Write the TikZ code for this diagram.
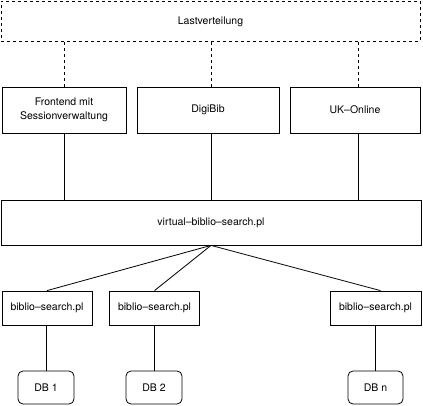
\documentclass[tikz,border=0pt]{standalone}
\usepackage{fontspec}
\setmainfont{TeX Gyre Heros}
\usetikzlibrary{positioning}

\begin{document}
\begin{tikzpicture}[x=1pt, y=1pt, line width=.8pt,
    font=\fontsize{10.5}{13.5}\selectfont]

    \tikzstyle{box} = [draw, rectangle, inner sep=0pt, align=center]
    \tikzstyle{dbbox} = [draw, rectangle, rounded corners=5pt, inner sep=0pt]
    \tikzstyle{link} = [line width=.8pt]

    \useasboundingbox (0,0) rectangle (423,-406);

    % Lastverteilung
    \node[box, dashed, minimum width=419, minimum height=40] (last)
        at (210.5,-21.5) {Lastverteilung};

    % Frontends
    \node[box, minimum width=124, minimum height=46] (front) at (64,-110)
        {Frontend mit\\Sessionverwaltung};
    \node[box, minimum width=142, minimum height=46] (digi) at (208,-110) {DigiBib};
    \node[box, minimum width=130, minimum height=46] (uk) at (355,-110) {UK--Online};

    \draw[link, dashed] (front.north) -- (front.north |- last.south);
    \draw[link, dashed] ([xshift=3]digi.north) -- ([xshift=3]digi.north |- last.south);
    \draw[link, dashed] ([xshift=3]uk.north) -- ([xshift=3]uk.north |- last.south);

    % virtual search
    \node[box, minimum width=420, minimum height=45] (virt) at (211,-222.5)
        {virtual--biblio--search.pl};

    \draw[link] (front.south) -- (front.south |- virt.north);
    \draw[link] ([xshift=3]digi.south) -- ([xshift=3]digi.south |- virt.north);
    \draw[link] ([xshift=3]uk.south) -- ([xshift=3]uk.south |- virt.north);

    % biblio-search
    \node[box, minimum width=90, minimum height=34] (bs1) at (47,-308) {biblio--search.pl};
    \node[box, minimum width=90, minimum height=34] (bs2) at (154.5,-308) {biblio--search.pl};
    \node[box, minimum width=91, minimum height=34] (bs3) at (375.5,-308) {biblio--search.pl};

    \draw[link] (virt.south) -- (bs1.north);
    \draw[link] (virt.south) -- (bs2.north);
    \draw[link] (virt.south) -- ([xshift=5]bs3.north);

    % Datenbanken
    \node[dbbox, minimum width=56, minimum height=33] (db1) at (46,-387.5) {DB 1};
    \node[dbbox, minimum width=56, minimum height=33] (db2) at (154,-387.5) {DB 2};
    \node[dbbox, minimum width=55, minimum height=33] (dbn) at (375.5,-387.5) {DB n};

    \draw[link] (db1.north) -- (db1.north |- bs1.south);
    \draw[link] (db2.north) -- (db2.north |- bs2.south);
    \draw[link] (dbn.north) -- (dbn.north |- bs3.south);

\end{tikzpicture}
\end{document}
